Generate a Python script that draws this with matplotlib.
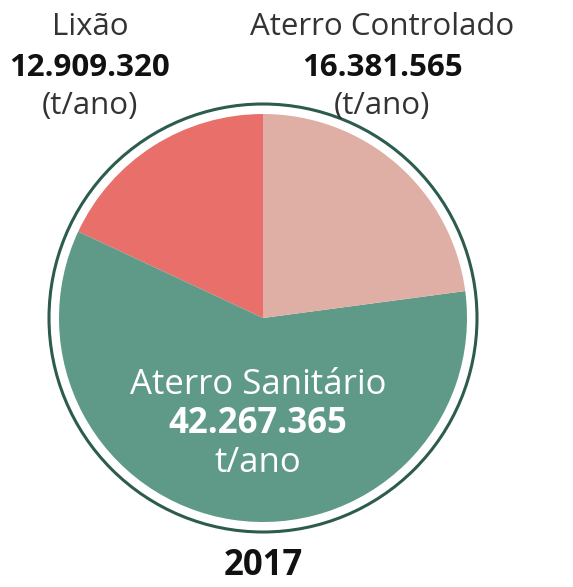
import matplotlib.pyplot as plt
from matplotlib.patches import Circle

plt.rcParams["font.family"] = ["Open Sans", "DejaVu Sans"]

# data
categories = ["Lixão", "Aterro Sanitário", "Aterro Controlado"]
values = [12909320, 42267365, 16381565]
value_labels = ["12.909.320", "42.267.365", "16.381.565"]
colors = ["#E9706A", "#5F9A89", "#DFAEA5"]
year = "2017"

W, H = 573, 587
fig = plt.figure(figsize=(W / 100, H / 100), dpi=100)
ax = fig.add_axes([0, 0, 1, 1])

cx, cy = 263, H - 318
r_pie = 204

ax.pie(values, colors=colors, startangle=90, counterclock=True,
       center=(cx, cy), radius=r_pie,
       wedgeprops=dict(linewidth=0))
ax.add_patch(Circle((cx, cy), r_pie + 10, fill=False,
                    edgecolor="#2D5C4E", linewidth=2.2))

ax.set_xlim(0, W)
ax.set_ylim(0, H)
ax.set_aspect("auto")
ax.axis("off")

def y(px):
    return H - px

lab = "#333333"
fs = 22.5
fs_in = 25

# Lixão
ax.text(90, y(27), categories[0], ha="center", va="center", fontsize=fs, color=lab)
ax.text(90, y(68), value_labels[0], ha="center", va="center", fontsize=fs,
        fontweight="bold", color="#111111")
ax.text(90, y(106), "(t/ano)", ha="center", va="center", fontsize=fs, color=lab)

# Aterro Controlado
ax.text(382, y(27), categories[2], ha="center", va="center", fontsize=fs, color=lab)
ax.text(382, y(68), value_labels[2], ha="center", va="center", fontsize=fs,
        fontweight="bold", color="#111111")
ax.text(382, y(106), "(t/ano)", ha="center", va="center", fontsize=fs, color=lab)

# Aterro Sanitário
ax.text(258, y(385), categories[1], ha="center", va="center", fontsize=fs_in, color="white")
ax.text(258, y(424), value_labels[1], ha="center", va="center", fontsize=fs_in,
        fontweight="bold", color="white")
ax.text(258, y(463), "t/ano", ha="center", va="center", fontsize=fs_in, color="white")

ax.text(263, y(566), year, ha="center", va="center", fontsize=fs_in,
        fontweight="bold", color="#111111")

fig.savefig("out.png", dpi=100)
